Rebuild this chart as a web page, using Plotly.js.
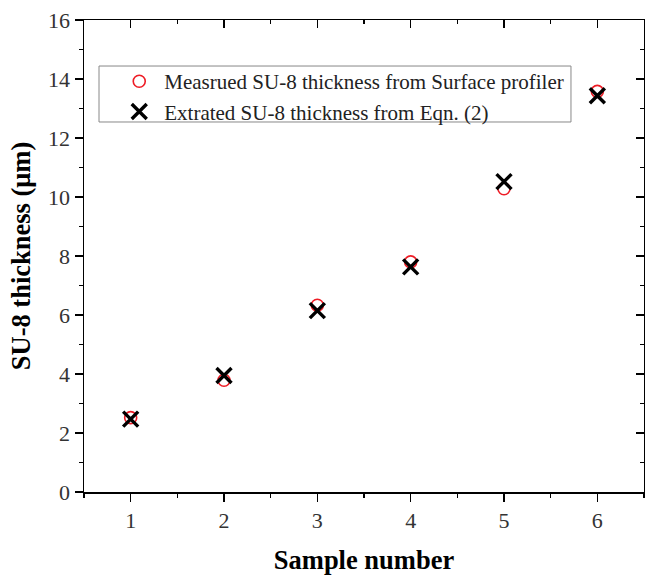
<!DOCTYPE html>
<html><head><meta charset="utf-8">
<script src="https://cdn.plot.ly/plotly-3.0.1.min.js"></script>
<style>html,body{margin:0;padding:0;background:#fff}</style>
</head><body><div id="chart" style="width:645px;height:575px"></div>
<script>
const samples = [1, 2, 3, 4, 5, 6];
const measured = [2.52, 3.79, 6.33, 7.8, 10.28, 13.58];
const extracted = [2.47, 3.95, 6.15, 7.63, 10.52, 13.43];
const nameMeasured = 'Measrued SU-8 thickness from Surface profiler';
const nameExtracted = 'Extrated SU-8 thickness from Eqn. (2)';
const fontFam = '"Liberation Serif", "Times New Roman", serif';

const traces = [
  {x: samples, y: measured, name: nameMeasured, type: 'scatter', mode: 'markers',
   marker: {symbol: 'circle-open', size: 12, color: '#ee1c25', line: {width: 1.6, color: '#ee1c25'}}},
  {x: samples, y: extracted, name: nameExtracted, type: 'scatter', mode: 'markers',
   marker: {symbol: 'x-thin-open', size: 15, color: '#000', line: {width: 3.4, color: '#000'}}},
  {x: [], y: [], xaxis: 'x2', yaxis: 'y2', showlegend: false, type: 'scatter', mode: 'markers'}
];

const axCommon = {showgrid: false, zeroline: false, showline: true, linecolor: '#000', linewidth: 1.5,
  tickcolor: '#000', tickwidth: 1.5, tickfont: {family: fontFam, size: 22, color: '#333'}};

const layout = {
  width: 645, height: 575,
  margin: {l: 84, r: 1, t: 20, b: 83},
  paper_bgcolor: '#fff', plot_bgcolor: '#fff',
  font: {family: fontFam, color: '#000'},
  xaxis: Object.assign({}, axCommon, {range: [0.5, 6.5], tickvals: samples, ticks: 'outside', ticklen: 8,
    minor: {dtick: 0.5, tick0: 0.5, ticks: 'outside', ticklen: 4, tickcolor: '#000', tickwidth: 1.5},
    title: {text: '<b>Sample number</b>', font: {family: fontFam, size: 26.5, color: '#000'}, standoff: 18}}),
  yaxis: Object.assign({}, axCommon, {range: [0, 16], dtick: 2, ticks: 'outside', ticklen: 8,
    minor: {dtick: 1, ticks: 'outside', ticklen: 4, tickcolor: '#000', tickwidth: 1.5},
    title: {text: '<b>SU-8 thickness (μm)</b>', font: {family: fontFam, size: 26.5, color: '#000'}, standoff: 10}}),
  xaxis2: Object.assign({}, axCommon, {overlaying: 'x', side: 'top', range: [0.5, 6.5], tickvals: samples,
    ticks: 'inside', ticklen: 8, showticklabels: false,
    minor: {dtick: 0.5, tick0: 0.5, ticks: 'inside', ticklen: 4, tickcolor: '#000', tickwidth: 1.5}}),
  yaxis2: Object.assign({}, axCommon, {overlaying: 'y', side: 'right', range: [0, 16], dtick: 2,
    ticks: 'inside', ticklen: 8, showticklabels: false,
    minor: {dtick: 1, ticks: 'inside', ticklen: 4, tickcolor: '#000', tickwidth: 1.5}}),
  shapes: [
    {type: 'rect', xref: 'paper', yref: 'paper', x0: 0.0268, x1: 0.8696, y0: 0.7839, y1: 0.9025,
     line: {color: '#888', width: 1}, fillcolor: '#fff', layer: 'below'}
  ],
  showlegend: true,
  legend: {x: 0.054, y: 0.913, xanchor: 'left', yanchor: 'top', bgcolor: 'rgba(0,0,0,0)',
    borderwidth: 0, font: {family: fontFam, size: 21, color: '#222'},
    itemwidth: 40, tracegroupgap: 0}
};

Plotly.newPlot('chart', traces, layout, {staticPlot: true});
</script></body></html>
